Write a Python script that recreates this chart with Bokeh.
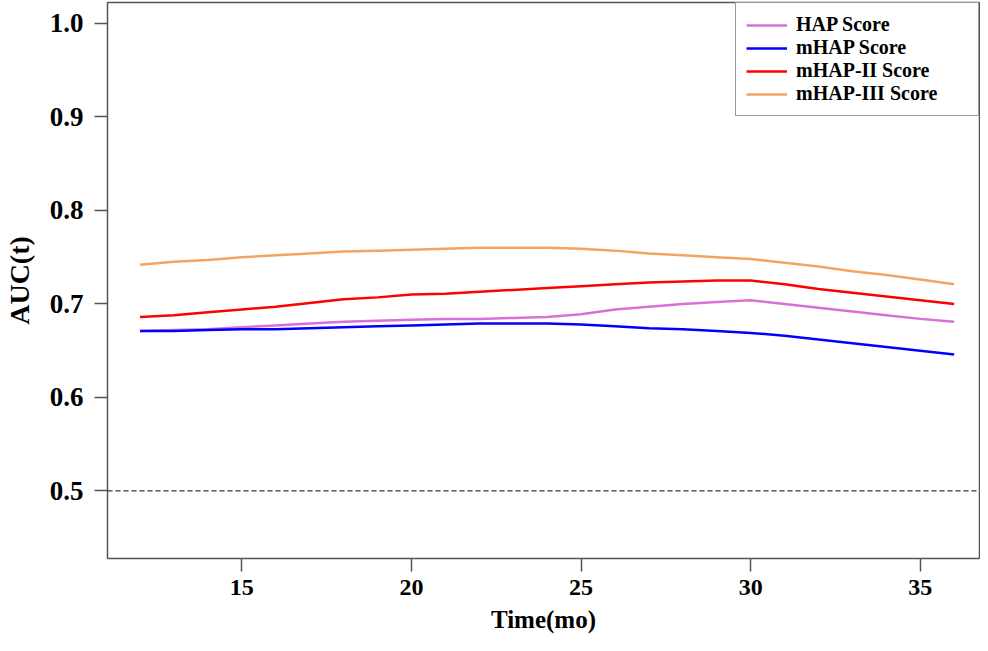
from bokeh.plotting import figure
from bokeh.models import Range1d, FixedTicker, Span, Legend, LegendItem
from bokeh.embed import file_html
from bokeh.resources import INLINE

months = list(range(12, 37))
hap = [0.671, 0.672, 0.673, 0.675, 0.677, 0.679, 0.681, 0.682, 0.683, 0.684, 0.684, 0.685, 0.686,
       0.689, 0.694, 0.697, 0.700, 0.702, 0.704, 0.700, 0.696, 0.692, 0.688, 0.684, 0.681]
mhap = [0.671, 0.671, 0.672, 0.673, 0.673, 0.674, 0.675, 0.676, 0.677, 0.678, 0.679, 0.679, 0.679,
        0.678, 0.676, 0.674, 0.673, 0.671, 0.669, 0.666, 0.662, 0.658, 0.654, 0.650, 0.646]
mhap2 = [0.686, 0.688, 0.691, 0.694, 0.697, 0.701, 0.705, 0.707, 0.710, 0.711, 0.713, 0.715, 0.717,
         0.719, 0.721, 0.723, 0.724, 0.725, 0.725, 0.721, 0.716, 0.712, 0.708, 0.704, 0.700]
mhap3 = [0.742, 0.745, 0.747, 0.750, 0.752, 0.754, 0.756, 0.757, 0.758, 0.759, 0.760, 0.760, 0.760,
         0.759, 0.757, 0.754, 0.752, 0.750, 0.748, 0.744, 0.740, 0.735, 0.731, 0.726, 0.721]
series_names = ["HAP Score", "mHAP Score", "mHAP-II Score", "mHAP-III Score"]
series_colors = ["#DA70D6", "#0000FF", "#FF0000", "#F4A460"]
x_ticks = [15, 20, 25, 30, 35]
y_ticks = [0.5, 0.6, 0.7, 0.8, 0.9, 1.0]
reference_auc = 0.5

FONT = "Liberation Serif"

p = figure(width=980, height=643, output_backend="svg", toolbar_location=None,
           x_range=Range1d(11.04, 36.747), y_range=Range1d(0.4277, 1.0224),
           min_border_left=107, min_border_right=1, min_border_top=2, min_border_bottom=85)
p.grid.visible = False
p.outline_line_color = "#555555"
p.outline_line_width = 1.5
p.background_fill_color = "white"
p.border_fill_color = "white"

for ax in (p.xaxis[0], p.yaxis[0]):
    ax.axis_line_color = None
    ax.major_tick_line_color = "#555555"
    ax.major_tick_line_width = 1.5
    ax.major_tick_out = 13
    ax.major_tick_in = 0
    ax.minor_tick_line_color = None
    ax.major_label_text_font = FONT
    ax.major_label_text_font_style = "bold"
    ax.major_label_text_color = "black"
    ax.axis_label_text_font = FONT
    ax.axis_label_text_font_style = "bold"
    ax.axis_label_text_color = "black"

p.xaxis.ticker = FixedTicker(ticks=x_ticks)
p.yaxis.ticker = FixedTicker(ticks=y_ticks)
p.xaxis.major_label_overrides = {t: str(t) for t in x_ticks}
p.yaxis.major_label_overrides = {t: f"{t:.1f}" for t in y_ticks}
p.xaxis.major_label_text_font_size = "24px"
p.yaxis.major_label_text_font_size = "27px"
p.xaxis.major_label_standoff = 8
p.yaxis.major_label_standoff = 11
p.xaxis.axis_label = "Time(mo)"
p.yaxis.axis_label = "AUC(t)"
p.xaxis.axis_label_text_font_size = "25px"
p.yaxis.axis_label_text_font_size = "28px"
p.xaxis.axis_label_standoff = 8
p.yaxis.axis_label_standoff = 12

p.add_layout(Span(location=reference_auc, dimension="width", line_color="#333333",
                  line_width=1.2, line_dash="5 3"))

items = []
for name, col, ys in zip(series_names, series_colors, [hap, mhap, mhap2, mhap3]):
    r = p.line(months, ys, line_color=col, line_width=2.5)
    items.append(LegendItem(label=name, renderers=[r]))

legend = Legend(items=items, location="top_right", margin=0, padding=10,
                glyph_width=41, glyph_height=18, label_height=18, spacing=-2,
                label_standoff=9, label_width=172,
                label_text_font=FONT, label_text_font_style="bold",
                label_text_font_size="20px", label_text_color="black",
                border_line_color="#333333", border_line_width=1.5,
                background_fill_alpha=1.0)
p.add_layout(legend, "center")

open("out.html", "w").write(file_html(p, INLINE))
